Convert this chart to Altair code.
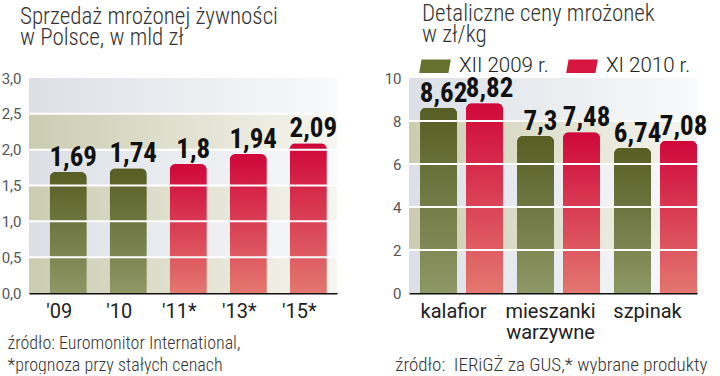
import altair as alt
import pandas as pd

# ---------------- data ----------------
years = ["'09", "'10", "'11*", "'13*", "'15*"]
sales = [1.69, 1.74, 1.8, 1.94, 2.09]
sales_kind = ["fakt", "fakt", "prognoza", "prognoza", "prognoza"]

products = ["kalafior", "mieszanki warzywne", "szpinak"]
series = ["XII 2009 r.", "XI 2010 r."]
price_2009 = [8.62, 7.3, 6.74]
price_2010 = [8.82, 7.48, 7.08]

left_band_lo = [0.0, 0.5, 1.0, 1.5, 2.0, 2.5]
left_band_hi = [0.5, 1.0, 1.5, 2.0, 2.5, 3.0]
left_band_kind = ["b", "g", "b", "g", "b", "g"]
right_band_lo = [0, 2, 4, 6, 8]
right_band_hi = [2, 4, 6, 8, 10]
right_band_kind = ["g", "b", "g", "b", "g"]

left_ticks = [0, 0.5, 1.0, 1.5, 2.0, 2.5, 3.0]
right_ticks = [0, 2, 4, 6, 8, 10]
left_grid = [0.5, 1.0, 1.5, 2.0, 2.5]
right_grid = [2, 4, 6, 8]

left_title = ["Sprzedaż mrożonej żywności", "w Polsce, w mld zł"]
right_title = ["Detaliczne ceny mrożonek", "w zł/kg"]
left_source = ["źródło: Euromonitor International,", "*prognoza przy stałych cenach"]
right_source = "źródło:\u00a0 IERiGŻ za GUS,* wybrane produkty"

# ---------------- styles ----------------
COND = "Roboto Condensed, Liberation Sans Narrow, DejaVu Sans Condensed, Roboto, sans-serif"
REG = "Roboto, sans-serif"
OLIVE_TOP, OLIVE_BOT = "#565e24", "#8e9766"
RED_TOP, RED_BOT = "#d0073a", "#e3776f"


def hgrad(c0, c1):
    return alt.Gradient(gradient="linear", x1=0, x2=1, y1=0, y2=0,
                        stops=[alt.GradientStop(color=c0, offset=0),
                               alt.GradientStop(color=c1, offset=1)])


def vgrad(c0, c1):
    return alt.Gradient(gradient="linear", x1=0, x2=0, y1=0, y2=1,
                        stops=[alt.GradientStop(color=c0, offset=0),
                               alt.GradientStop(color=c1, offset=1)])


BEIGE = hgrad("#cbccb1", "#f6f6f0")
GREY = hgrad("#dce0e6", "#f8f9fa")

TITLE_STYLE = dict(anchor="start", frame="group", fontSize=23, font=COND, fontWeight=300,
                   color="#333", lineHeight=21)
LABEL_STYLE = dict(baseline="alphabetic", dy=-6, dx=5, font=COND, fontWeight="bold",
                   fontSize=27, color="#111")


def y_axis(vals, expr):
    return alt.Axis(values=vals, labelExpr=expr, grid=False, ticks=False, domain=False,
                    labelPadding=8, labelFontSize=15, labelColor="#555", labelFont=REG,
                    title=None)


# ---------------- left chart ----------------
df_l = pd.DataFrame({"rok": years, "v": sales, "kind": sales_kind})
bands_l = pd.DataFrame({"lo": left_band_lo, "hi": left_band_hi, "kind": left_band_kind})
grid_l = pd.DataFrame({"g": left_grid})

ysc_l = alt.Scale(domain=[0, 3], nice=False)
xsc_l = alt.Scale(domain=years, paddingInner=0.38, paddingOuter=0.256, align=0.67)
yax_l = y_axis(left_ticks, "replace(format(datum.value, '.1f'), '.', ',')")
xax_l = alt.Axis(ticks=False, domain=True, domainColor="#111", domainWidth=2, labelAngle=0,
                 labelFontSize=20, labelColor="#222", labelFont=REG, labelPadding=8,
                 labelOffset=-9,
                 title=left_source, titleFont=COND, titleFontSize=18, titleFontWeight=300,
                 titleColor="#333", titleX=-22, titleY=55, titleAlign="left",
                 titleAnchor="start", titleBaseline="alphabetic", titleLineHeight=22)

bl_b = alt.Chart(bands_l).transform_filter("datum.kind == 'b'").mark_rect(color=BEIGE).encode(
    x=alt.value(0), x2=alt.value("width"),
    y=alt.Y("lo:Q", scale=ysc_l, axis=yax_l), y2="hi:Q")
bl_g = alt.Chart(bands_l).transform_filter("datum.kind == 'g'").mark_rect(color=GREY).encode(
    x=alt.value(0), x2=alt.value("width"),
    y=alt.Y("lo:Q", scale=ysc_l, axis=yax_l), y2="hi:Q")

base_l = alt.Chart(df_l).encode(
    x=alt.X("rok:N", scale=xsc_l, axis=xax_l, sort=years),
    y=alt.Y("v:Q", scale=ysc_l, axis=yax_l))
bars_l1 = base_l.transform_filter("datum.kind == 'fakt'").mark_bar(
    color=vgrad(OLIVE_TOP, OLIVE_BOT), cornerRadiusTopLeft=6, cornerRadiusTopRight=6)
bars_l2 = base_l.transform_filter("datum.kind == 'prognoza'").mark_bar(
    color=vgrad(RED_TOP, RED_BOT), cornerRadiusTopLeft=6, cornerRadiusTopRight=6)
rules_l = alt.Chart(grid_l).mark_rule(color="white", strokeWidth=2).encode(
    y=alt.Y("g:Q", scale=ysc_l, axis=yax_l))
txt_l = base_l.transform_calculate(lbl="replace(toString(datum.v), '.', ',')").mark_text(
    **LABEL_STYLE).encode(text="lbl:N")

left = alt.layer(bl_b, bl_g, bars_l1, bars_l2, rules_l, txt_l).properties(
    width=308, height=215,
    title=alt.TitleParams(left_title, dx=-9, offset=21, **TITLE_STYLE))

# ---------------- right chart ----------------
rows = []
for p, a, b in zip(products, price_2009, price_2010):
    rows.append({"prod": p, "ser": series[0], "v": a})
    rows.append({"prod": p, "ser": series[1], "v": b})
df_r = pd.DataFrame(rows)
bands_r = pd.DataFrame({"lo": right_band_lo, "hi": right_band_hi, "kind": right_band_kind})
grid_r = pd.DataFrame({"g": right_grid})

ysc_r = alt.Scale(domain=[0, 10], nice=False)
xsc_r = alt.Scale(domain=products, paddingInner=0.145, paddingOuter=0.057, align=1)
xosc_r = alt.Scale(domain=series, paddingInner=0.196, paddingOuter=0)
yax_r = y_axis(right_ticks, "format(datum.value, 'd')")
xax_r = alt.Axis(ticks=False, domain=True, domainColor="#111", domainWidth=2, labelAngle=0,
                 labelFontSize=20, labelColor="#222", labelFont=REG, labelPadding=8,
                 labelOffset=-8, labelExpr="split(datum.label, ' ')", labelLineHeight=21,
                 title=right_source, titleFont=COND, titleFontSize=19, titleFontWeight=300,
                 titleColor="#333", titleX=298, titleY=77, titleAlign="right",
                 titleAnchor="start", titleBaseline="alphabetic")

br_b = alt.Chart(bands_r).transform_filter("datum.kind == 'b'").mark_rect(color=BEIGE).encode(
    x=alt.value(0), x2=alt.value("width"),
    y=alt.Y("lo:Q", scale=ysc_r, axis=yax_r), y2="hi:Q")
br_g = alt.Chart(bands_r).transform_filter("datum.kind == 'g'").mark_rect(color=GREY).encode(
    x=alt.value(0), x2=alt.value("width"),
    y=alt.Y("lo:Q", scale=ysc_r, axis=yax_r), y2="hi:Q")

base_r = alt.Chart(df_r).encode(
    x=alt.X("prod:N", scale=xsc_r, axis=xax_r, sort=products),
    xOffset=alt.XOffset("ser:N", scale=xosc_r, sort=series),
    y=alt.Y("v:Q", scale=ysc_r, axis=yax_r))

legend = alt.Legend(orient="none", legendX=10, legendY=-28, direction="horizontal", title=None,
                    symbolType="M-0.85,-0.42L1,-0.42L0.85,0.42L-1,0.42Z", symbolSize=1000,
                    symbolStrokeWidth=0, symbolOpacity=1, labelFont=REG, labelFontSize=20.5,
                    labelFontWeight=300, labelColor="#222", labelOffset=8, columnPadding=17)
bars_r0 = base_r.mark_bar(cornerRadiusTopLeft=6, cornerRadiusTopRight=6).encode(
    color=alt.Color("ser:N", scale=alt.Scale(domain=series, range=["#66702f", "#d6163f"]),
                    legend=legend, sort=series))
bars_r1 = base_r.transform_filter(alt.datum.ser == series[0]).mark_bar(
    color=vgrad(OLIVE_TOP, OLIVE_BOT), cornerRadiusTopLeft=6, cornerRadiusTopRight=6)
bars_r2 = base_r.transform_filter(alt.datum.ser == series[1]).mark_bar(
    color=vgrad(RED_TOP, RED_BOT), cornerRadiusTopLeft=6, cornerRadiusTopRight=6)
rules_r = alt.Chart(grid_r).mark_rule(color="white", strokeWidth=2).encode(
    y=alt.Y("g:Q", scale=ysc_r, axis=yax_r))
txt_r = base_r.transform_calculate(lbl="replace(toString(datum.v), '.', ',')").mark_text(
    **LABEL_STYLE).encode(text="lbl:N")

right = alt.layer(br_b, br_g, bars_r0, bars_r1, bars_r2, rules_r, txt_r).properties(
    width=288, height=215,
    title=alt.TitleParams(right_title, dx=13, offset=3, **TITLE_STYLE))

chart = alt.hconcat(left, right, spacing=72, bounds="flush").resolve_scale(
    color="independent").resolve_legend(color="independent").properties(
    padding={"left": 1, "top": 3, "right": 0, "bottom": 0},
    background="white").configure_view(stroke=None)

chart.save("out.html", embed_options={"renderer": "svg", "actions": False})
